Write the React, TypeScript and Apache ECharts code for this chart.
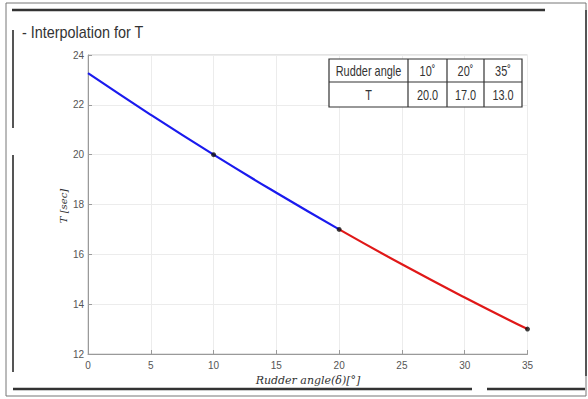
import React, { useEffect, useRef } from "react";
import * as echarts from "echarts";

const blueX = [0, 5, 10, 15, 20];
const blueT = [23.27, 21.6, 20.0, 18.47, 17.0];
const redX = [20, 25, 30, 35];
const redT = [17.0, 15.6, 14.27, 13.0];
const knotX = [10, 20, 35];
const knotT = [20.0, 17.0, 13.0];
const tableHeader = ["Rudder angle", "10˚", "20˚", "35˚"];
const tableRow = ["T", "20.0", "17.0", "13.0"];

const FONT = "'Liberation Sans', Arial, sans-serif";

export default function App() {
  const ref = useRef<HTMLDivElement>(null);
  useEffect(() => {
    document.body.style.margin = "0";
    const chart = echarts.init(ref.current!, null, { renderer: "svg" });

    const colX = [329, 408, 447, 484, 522];
    const rowY = [59, 82, 107];
    const tableEls: any[] = [
      { type: "rect", shape: { x: colX[0], y: rowY[0], width: colX[4] - colX[0], height: rowY[2] - rowY[0] }, style: { fill: "#fff", stroke: "#333", lineWidth: 1.2 }, z: 100 },
      { type: "line", shape: { x1: colX[0], y1: rowY[1], x2: colX[4], y2: rowY[1] }, style: { stroke: "#333", lineWidth: 1.2 }, z: 101 },
    ];
    for (let i = 1; i < 4; i++) {
      tableEls.push({ type: "line", shape: { x1: colX[i], y1: rowY[0], x2: colX[i], y2: rowY[2] }, style: { stroke: "#333", lineWidth: 1.2 }, z: 101 });
    }
    [tableHeader, tableRow].forEach((row, r) => {
      row.forEach((t, c) => {
        tableEls.push({
          type: "text",
          x: (colX[c] + colX[c + 1]) / 2,
          y: (rowY[r] + rowY[r + 1]) / 2 + 1,
          scaleX: 0.78,
          z: 102,
          style: { text: t, fill: "#333", font: `14px ${FONT}`, align: "center", verticalAlign: "middle" },
        });
      });
    });

    const frame = (shape: any, w: number, color: string) => ({ type: "line", shape, style: { stroke: color, lineWidth: w }, z: 50 });

    chart.setOption({
      animation: false,
      backgroundColor: "#fff",
      grid: { left: 88, right: 60.5, top: 55, bottom: 45, show: true, borderColor: "#c8c8c8", borderWidth: 1, backgroundColor: "transparent" },
      xAxis: {
        type: "value", min: 0, max: 35, interval: 5,
        axisLine: { show: true, lineStyle: { color: "#9a9a9a" } },
        axisTick: { show: true, inside: true, length: 4, lineStyle: { color: "#9a9a9a" } },
        axisLabel: { color: "#555", fontSize: 10, fontFamily: FONT, margin: 6 },
        splitLine: { show: true, lineStyle: { color: "#ececec" } },
      },
      yAxis: {
        type: "value", min: 12, max: 24, interval: 2,
        axisLine: { show: true, lineStyle: { color: "#9a9a9a" } },
        axisTick: { show: true, inside: true, length: 4, lineStyle: { color: "#9a9a9a" } },
        axisLabel: { color: "#555", fontSize: 10, fontFamily: FONT, margin: 4 },
        splitLine: { show: true, lineStyle: { color: "#ececec" } },
      },
      series: [
        { type: "line", data: blueX.map((x, i) => [x, blueT[i]]), showSymbol: false, smooth: true, lineStyle: { color: "#1a1aee", width: 2.2 } },
        { type: "line", data: redX.map((x, i) => [x, redT[i]]), showSymbol: false, smooth: true, lineStyle: { color: "#e01818", width: 2.2 } },
        { type: "scatter", data: knotX.map((x, i) => [x, knotT[i]]), symbolSize: 5, itemStyle: { color: "#111" }, z: 5 },
      ],
      graphic: [
        { type: "rect", shape: { x: 6, y: 3, width: 580, height: 393 }, style: { fill: "none", stroke: "#777", lineWidth: 1 }, z: 49 },
        frame({ x1: 12, y1: 10, x2: 545, y2: 10 }, 2.5, "#333"),
        frame({ x1: 586, y1: 10, x2: 586, y2: 376 }, 2, "#555"),
        frame({ x1: 13, y1: 30, x2: 13, y2: 128 }, 2, "#555"),
        frame({ x1: 13, y1: 155, x2: 13, y2: 372 }, 2, "#555"),
        frame({ x1: 13, y1: 389, x2: 472, y2: 389 }, 2.5, "#333"),
        frame({ x1: 487, y1: 389, x2: 585, y2: 389 }, 2.5, "#333"),
        {
          type: "text", x: 22, y: 32, scaleX: 0.9,
          style: { text: "- Interpolation for T", fill: "#333", font: `16px ${FONT}`, verticalAlign: "middle" },
        },
        {
          type: "text", x: 308, y: 380,
          style: { text: "Rudder angle(δ)[°]", fill: "#333", font: `italic 11px 'DejaVu Serif', serif`, align: "center", verticalAlign: "middle" },
        },
        {
          type: "text", x: 63, y: 206, rotation: Math.PI / 2,
          style: { text: "T [sec]", fill: "#333", font: `italic 10px 'DejaVu Serif', serif`, align: "center", verticalAlign: "middle" },
        },
        ...tableEls,
      ],
    });
    return () => chart.dispose();
  }, []);
  return <div ref={ref} style={{ width: 588, height: 399 }} />;
}
